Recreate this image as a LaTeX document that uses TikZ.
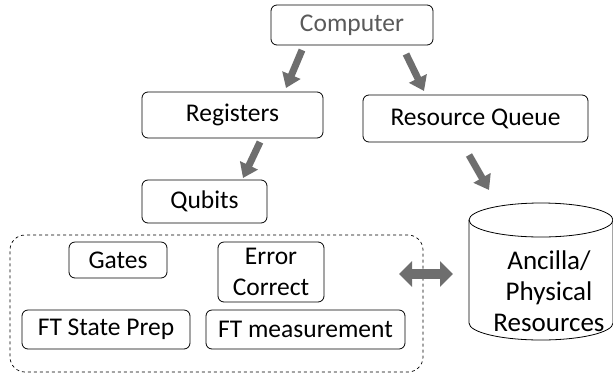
\documentclass[tikz,border=0pt]{standalone}
\usepackage{fontspec}
\setmainfont{Carlito}
\usetikzlibrary{arrows.meta}
\definecolor{arrowgray}{HTML}{6E6E6E}
\definecolor{textgray}{HTML}{5A5A5A}
\begin{document}
\begin{tikzpicture}[x=1pt,y=-1pt,
  box/.style={draw=black, rounded corners=6pt, line width=0.8pt, inner sep=0pt, font=\fontsize{25.5}{31}\selectfont, align=center},
  fat/.style={draw=arrowgray, line width=7pt, -{Triangle[width=19pt,length=14pt]}},
  fatboth/.style={draw=arrowgray, line width=10pt, {Triangle[width=25pt,length=13pt]}-{Triangle[width=25pt,length=13pt]}}]
\useasboundingbox (0,0) rectangle (613,373);
\node[box, minimum width=162pt, minimum height=40pt, text=textgray] (comp) at (352,25) {Computer};
\node[box, minimum width=181pt, minimum height=46pt] (reg) at (232.5,115) {Registers};
\node[box, minimum width=225pt, minimum height=47pt] (rq) at (475.5,118.5) {Resource Queue};
\node[box, minimum width=125pt, minimum height=43pt] (qub) at (204.5,201.5) {Qubits};
\node[draw=black, dashed, rounded corners=15pt, line width=0.7pt, minimum width=413pt, minimum height=137pt, inner sep=0pt] (grp) at (216.5,303.5) {};
\node[box, minimum width=98pt, minimum height=36pt] (gates) at (118,260) {Gates};
\node[box, minimum width=106pt, minimum height=60pt, text depth=0pt] (ec) at (271,272) {};
\node[font=\fontsize{25.5}{31}\selectfont, align=center, inner sep=0pt] (ectxt) at (ec.center) {Error\\Correct};
\node[box, minimum width=168pt, minimum height=39pt] (ftsp) at (106,329.5) {FT State Prep};
\node[box, minimum width=199pt, minimum height=39pt] (ftm) at (305.5,329.5) {FT measurement};
% cylinder
\draw[line width=0.8pt, fill=white] (469,220) -- (469,323) arc[start angle=180, end angle=360, x radius=72pt, y radius=17pt] -- (613,220);
\draw[line width=0.8pt] (541,220) ellipse[x radius=72pt, y radius=17pt];
\node[font=\fontsize{27}{31}\selectfont, align=center] (anc) at (549,291) {Ancilla/\\Physical\\Resources};
% arrows
\coordinate (a1s) at (302,50); \coordinate (a1e) at (286,88);
\coordinate (a2s) at (406,54); \coordinate (a2e) at (424,91);
\coordinate (a3s) at (260,142); \coordinate (a3e) at (243,178);
\coordinate (a4s) at (469,155); \coordinate (a4e) at (489,190);
\coordinate (d1) at (399,274); \coordinate (d2) at (453,274);
\draw[fat] (a1s) -- (a1e);
\draw[fat] (a2s) -- (a2e);
\draw[fat] (a3s) -- (a3e);
\draw[fat] (a4s) -- (a4e);
\draw[fatboth] (d1) -- (d2);
\end{tikzpicture}
\end{document}
